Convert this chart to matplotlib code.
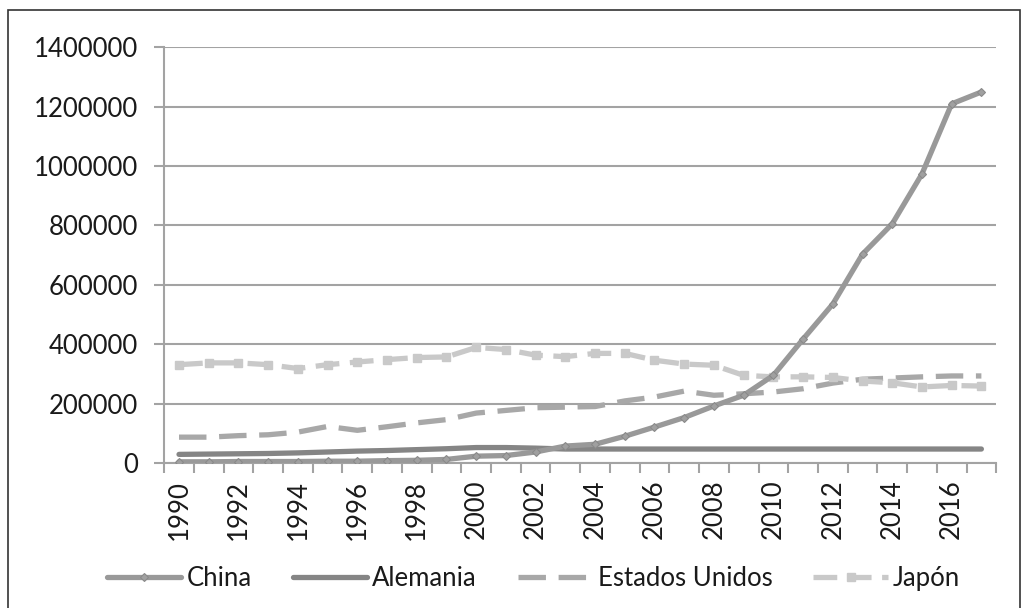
import matplotlib.pyplot as plt
import numpy as np
from matplotlib.patches import Rectangle

years = list(range(1990, 2018))
china = [4000, 4000, 5000, 5000, 5000, 6000, 6000, 8000, 9000, 12000,
         23000, 25000, 37000, 57000, 63000, 90000, 121000, 153000, 192000, 228000,
         295000, 417000, 535000, 703000, 805000, 973000, 1209000, 1249000]
alemania = [29000, 30000, 31000, 32000, 34000, 37000, 40000, 42000, 45000, 48000,
            52000, 52000, 50000, 47000, 47000, 47000, 47000, 47000, 47000, 47000,
            47000, 47000, 47000, 47000, 47000, 47000, 47000, 47000]
estados_unidos = [87000, 87000, 92000, 95000, 104000, 123000, 110000, 122000, 135000, 146000,
                  168000, 177000, 186000, 188000, 190000, 209000, 222000, 242000, 228000, 233000,
                  239000, 250000, 269000, 282000, 286000, 290000, 293000, 293000]
japon = [331000, 337000, 337000, 331000, 318000, 331000, 340000, 348000, 355000, 357000,
         389000, 382000, 363000, 358000, 369000, 369000, 346000, 333000, 329000, 295000,
         290000, 290000, 288000, 276000, 270000, 256000, 261000, 259000]

plt.rcParams['font.family'] = ['Lato', 'DejaVu Sans']
grid_c = '#a3a3a3'
txt_c = '#1a1a1a'
fs = 18.5

fig = plt.figure(figsize=(10.26, 6.08), dpi=100)
ax = fig.add_axes([0.16, 0.2385, 0.811, 0.684])
x = np.arange(len(years))

ax.plot(x, china, color='#999999', lw=3.8, marker='D', ms=4, mfc='#a0a0a0',
        mec='#8a8a8a', mew=0.8, label='China', zorder=4, solid_capstyle='round')
ax.plot(x, alemania, color='#858585', lw=3.8, label='Alemania', zorder=3,
        solid_capstyle='round')
ax.plot(x, estados_unidos, color='#a8a8a8', lw=3.8, dashes=(5.2, 2.4),
        label='Estados Unidos', zorder=2)
ax.plot(x, japon, color='#c9c9c9', lw=3.8, dashes=(4.5, 2.0), marker='s', ms=6,
        mfc='#c9c9c9', mec='#c9c9c9', label='Japón', zorder=2)

ax.set_xlim(-0.5, len(years) - 0.5)
ax.set_ylim(0, 1400000)
ax.set_yticks(np.arange(0, 1400001, 200000))
ax.set_yticklabels([str(v) for v in range(0, 1400001, 200000)], fontsize=fs, color=txt_c)
ax.yaxis.grid(True, color=grid_c, lw=1.5)
ax.set_axisbelow(True)

ax.set_xticks(x[::2])
ax.set_xticklabels([str(y) for y in years[::2]], rotation=90, fontsize=fs, color=txt_c)
ax.set_xticks(np.arange(-0.5, len(years)), minor=True)
ax.tick_params(axis='x', which='major', length=0, pad=12)
ax.tick_params(axis='x', which='minor', length=7, width=1.5, color=grid_c)
ax.tick_params(axis='y', length=7, width=1.5, color=grid_c, pad=12)

for s in ['top', 'right']:
    ax.spines[s].set_visible(False)
for s in ['left', 'bottom']:
    ax.spines[s].set_color(grid_c)
    ax.spines[s].set_linewidth(1.5)

leg = fig.legend(loc='center', bbox_to_anchor=(0.52, 0.049), ncol=4, frameon=False,
                 fontsize=fs, handlelength=2.9, columnspacing=1.6, handletextpad=0.2)
for t in leg.get_texts():
    t.set_color(txt_c)

fig.patches.append(Rectangle((0.008, -0.01), 0.986, 0.993, transform=fig.transFigure,
                             fill=False, ec='#333333', lw=1.2))

fig.savefig('out.png', dpi=100)
